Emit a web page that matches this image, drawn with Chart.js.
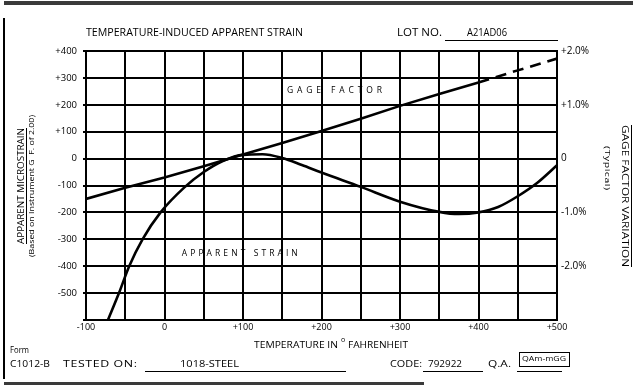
<!DOCTYPE html>
<html>
<head>
<meta charset="utf-8">
<script src="https://cdn.jsdelivr.net/npm/chart.js@4.4.0/dist/chart.umd.min.js"></script>
<style>
  html, body { margin: 0; padding: 0; background: #fff; }
  #wrap { position: relative; width: 633px; height: 388px; }
</style>
</head>
<body>
<div id="wrap"><canvas id="chart" width="633" height="388"></canvas></div>
<script>
// Temperature-induced apparent strain sheet (lot A21AD06, 1018 steel)

// temperature axis, deg F
const tempMin = -100;
const tempMax = 500;

// apparent strain curve, microstrain
const strainTemps  = [-72, -58, -45, -28, -5, 25, 50, 75, 100, 125, 150, 175, 200, 250, 300, 350, 375, 400, 425, 450, 475, 500];
const strainValues = [-600, -500, -400, -300, -200, -108, -50, -8, 14, 16, 2, -24, -52, -105, -160, -198, -206, -200, -180, -140, -90, -25];

// gage factor line (solid) and its dashed extension
const gageTemps  = [-100, -50, 0, 50, 100, 150, 200, 250, 300, 350, 400];
const gageValues = [-150, -108, -70, -28, 15, 58, 103, 148, 196, 240, 283];
const gageExtTemps  = [400, 450, 500];
const gageExtValues = [283, 328, 372];

// axis ranges
const strainMin = -600;
const strainMax = 400;
const gfMin = -3;   // percent, right axis
const gfMax = 2;

const FONT = '"Open Sans", Lato, sans-serif';

function toPoints(xs, ys) {
    return xs.map((x, i) => ({ x: x, y: ys[i] }));
}

function line(ctx, x1, y1, x2, y2) {
    ctx.beginPath();
    ctx.moveTo(x1, y1 + 0.5);
    ctx.lineTo(x2, y2 + 0.5);
    ctx.stroke();
}

// the form uses a wide typeface: stretch the text a little, then spread letters for the rest
function fitText(ctx, str, x, y, width, maxStretch = 1.3) {
    ctx.letterSpacing = '0px';
    const w = ctx.measureText(str).width;
    const sx = Math.min(width / w, maxStretch);
    const sp = str.length > 1 ? Math.max(0, (width / sx - w) / (str.length - 1)) : 0;
    ctx.save();
    ctx.translate(x, y);
    ctx.scale(sx, 1);
    ctx.letterSpacing = sp + 'px';
    ctx.fillText(str, 0, 0);
    ctx.restore();
}

// draws the form around the plot: titles, lot no, footer fields
const formPlugin = {
    id: 'form',
    afterDraw(chart) {
        const ctx = chart.ctx;
        const xs = chart.scales.x;
        const ys = chart.scales.y;
        ctx.save();
        ctx.strokeStyle = '#000';
        ctx.lineWidth = 1;

        // heavy rules top and bottom, left edge
        ctx.fillStyle = '#3a3a3a';
        ctx.fillRect(4, 1, 629, 4);
        ctx.fillRect(4, 382, 420, 3);
        ctx.fillStyle = '#000';
        ctx.fillRect(3, 18, 2, 361);

        ctx.textBaseline = 'middle';
        ctx.textAlign = 'left';
        ctx.font = '10px ' + FONT;
        fitText(ctx, 'TEMPERATURE-INDUCED APPARENT STRAIN', 86, 33, 217);
        fitText(ctx, 'LOT NO.', 397, 33, 45);
        fitText(ctx, 'A21AD06', 467, 33, 40);
        line(ctx, 445, 40, 558, 40);

        // left axis titles
        ctx.save();
        ctx.translate(21, 186);
        ctx.rotate(-Math.PI / 2);
        ctx.font = '9px ' + FONT;
        fitText(ctx, 'APPARENT MICROSTRAIN', -58, 0, 116);
        line(ctx, -58, 5, 58, 5);
        ctx.font = '8px ' + FONT;
        fitText(ctx, '(Based on Instrument G  F. of 2.00)', -71, 11, 142);
        ctx.restore();

        // right axis titles
        ctx.save();
        ctx.translate(625, 196);
        ctx.rotate(Math.PI / 2);
        ctx.font = '9px ' + FONT;
        fitText(ctx, 'GAGE FACTOR VARIATION', -71, 0, 142);
        line(ctx, -71, -7, 71, -7);
        ctx.restore();
        ctx.save();
        ctx.translate(607, 168);
        ctx.rotate(Math.PI / 2);
        ctx.font = '8px ' + FONT;
        fitText(ctx, '(Typical)', -22, 0, 44);
        ctx.restore();

        // curve labels inside the grid
        ctx.font = '8.5px ' + FONT;
        fitText(ctx, 'GAGE FACTOR', xs.getPixelForValue(156), ys.getPixelForValue(253), 95, 1);
        fitText(ctx, 'APPARENT STRAIN', xs.getPixelForValue(22), ys.getPixelForValue(-353), 116, 1);

        // x axis title with raised degree mark
        ctx.font = '9.5px ' + FONT;
        fitText(ctx, 'TEMPERATURE IN', 254, 345, 84);
        ctx.font = '7px ' + FONT;
        ctx.fillText('o', 341, 340);
        ctx.font = '9.5px ' + FONT;
        fitText(ctx, 'FAHRENHEIT', 348, 345, 60);

        // footer
        ctx.font = '9px ' + FONT;
        fitText(ctx, 'Form', 10, 350, 19);
        fitText(ctx, 'C1012-B', 10, 364, 40);
        ctx.font = '9.5px ' + FONT;
        fitText(ctx, 'TESTED ON:', 63, 364, 74);
        line(ctx, 145, 371, 346, 371);
        fitText(ctx, '1018-STEEL', 180, 364, 59);
        fitText(ctx, 'CODE:', 390, 364, 32);
        line(ctx, 423, 371, 483, 371);
        fitText(ctx, '792922', 428, 364, 34);
        fitText(ctx, 'Q.A.', 488, 364, 23);
        line(ctx, 517, 371, 562, 371);
        ctx.strokeRect(519.5, 352.5, 50, 14);
        ctx.font = '7px ' + FONT;
        fitText(ctx, 'QAm-mGG', 522, 359, 44);

        ctx.restore();
    }
};

const ctx = document.getElementById('chart');

new Chart(ctx, {
    type: 'line',
    data: {
        datasets: [
            {
                label: 'Apparent Strain',
                data: toPoints(strainTemps, strainValues),
                borderColor: '#000',
                borderWidth: 2.6,
                pointRadius: 0,
                cubicInterpolationMode: 'monotone',
                fill: false
            },
            {
                label: 'Gage Factor',
                data: toPoints(gageTemps, gageValues),
                borderColor: '#000',
                borderWidth: 2.6,
                pointRadius: 0,
                tension: 0,
                fill: false
            },
            {
                label: 'Gage Factor (extrapolated)',
                data: toPoints(gageExtTemps, gageExtValues),
                borderColor: '#000',
                borderWidth: 2.6,
                borderDash: [11, 7],
                pointRadius: 0,
                tension: 0,
                fill: false
            }
        ]
    },
    options: {
        responsive: false,
        animation: false,
        devicePixelRatio: 1,
        layout: { padding: { top: 51, left: 0, right: 0, bottom: 0 } },
        plugins: {
            legend: { display: false },
            tooltip: { enabled: false },
            title: { display: false }
        },
        scales: {
            x: {
                type: 'linear',
                min: tempMin,
                max: tempMax,
                afterFit: s => { s.height = 68; },
                ticks: {
                    stepSize: 50,
                    autoSkip: false,
                    maxRotation: 0,
                    padding: 2,
                    color: '#000',
                    font: { family: FONT, size: 9 },
                    callback: v => v % 100 !== 0 ? '' : (v > 0 ? '+' + v : String(v))
                },
                grid: { color: '#000', lineWidth: 2, drawTicks: false },
                border: { color: '#000', width: 2 }
            },
            y: {
                min: strainMin,
                max: strainMax,
                position: 'left',
                afterFit: s => { s.width = 86; },
                ticks: {
                    stepSize: 100,
                    padding: 6,
                    color: '#000',
                    font: { family: FONT, size: 9.5 },
                    callback: v => v === strainMin ? '' : (v > 0 ? '+' + v : String(v))
                },
                grid: { color: '#000', lineWidth: 2, tickLength: 3 },
                border: { color: '#000', width: 2 }
            },
            y2: {
                min: gfMin,
                max: gfMax,
                position: 'right',
                afterFit: s => { s.width = 76; },
                ticks: {
                    stepSize: 1,
                    padding: 4,
                    color: '#000',
                    font: { family: FONT, size: 10 },
                    callback: v => v === gfMin ? '' : (v === 0 ? '0' : (v > 0 ? '+' : '-') + Math.abs(v).toFixed(1) + '%')
                },
                grid: { drawOnChartArea: false, drawTicks: false },
                border: { color: '#000', width: 2 }
            }
        }
    },
    plugins: [formPlugin]
});
</script>
</body>
</html>
